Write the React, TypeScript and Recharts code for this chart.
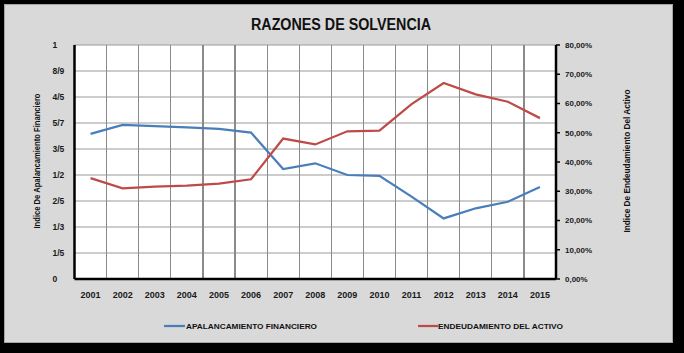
import React from 'react';
import { LineChart, Line, XAxis, YAxis, CartesianGrid, ReferenceLine } from 'recharts';

const years = ['2001', '2002', '2003', '2004', '2005', '2006', '2007', '2008', '2009', '2010', '2011', '2012', '2013', '2014', '2015'];
// Apalancamiento financiero, in left-axis tick steps (0..9)
const apalancamiento = [5.58, 5.93, 5.88, 5.83, 5.77, 5.63, 4.23, 4.45, 4.0, 3.97, 3.17, 2.33, 2.72, 2.97, 3.54];
// Endeudamiento del activo, percent
const endeudamiento = [34.5, 31.0, 31.6, 31.9, 32.6, 34.1, 48.0, 46.0, 50.5, 50.7, 59.8, 67.0, 63.1, 60.6, 55.0];
const leftTickLabels = ['0', '1/5', '1/3', '2/5', '1/2', '3/5', '5/7', '4/5', '8/9', '1'];
const leftTicks = [0, 1, 2, 3, 4, 5, 6, 7, 8, 9];
const rightTicks = [0, 10, 20, 30, 40, 50, 60, 70, 80];
const title = 'RAZONES DE SOLVENCIA';
const leftAxisTitle = 'Indice De Apalancamiento Financiero';
const rightAxisTitle = 'Indice De Endeudamiento Del Activo';
const seriesNames = ['APALANCAMIENTO FINANCIERO', 'ENDEUDAMIENTO DEL ACTIVO'];
const seriesColors = ['#4a7ebb', '#be4b48'];

const data = years.map((y, i) => ({ year: y, apal: apalancamiento[i], endeu: endeudamiento[i] }));

const FONT = '"Liberation Sans", Arial, sans-serif';

const LeftTick = (props: any) => {
  const { x, y, payload } = props;
  return (
    <text x={x} y={y} dy="0.355em" textAnchor="start" fontFamily={FONT} fontWeight="bold" fontSize={8.5} fill="#1a1a1a">
      {leftTickLabels[payload.value]}
    </text>
  );
};

const RightTick = (props: any) => {
  const { x, y, payload } = props;
  return (
    <text x={x} y={y} dy="0.355em" textAnchor="start" fontFamily={FONT} fontWeight="bold" fontSize={8} fill="#1a1a1a">
      {payload.value.toFixed(2).replace('.', ',') + '%'}
    </text>
  );
};

const BottomTick = (props: any) => {
  const { x, y, payload } = props;
  return (
    <text x={x} y={y} dy="0.71em" textAnchor="middle" fontFamily={FONT} fontWeight="bold" fontSize={9} fill="#1a1a1a">
      {payload.value}
    </text>
  );
};

export default function App() {
  return (
    <div style={{ position: 'fixed', left: 0, top: 0, width: 684, height: 353, background: '#000', overflow: 'hidden' }}>
      <div style={{ position: 'absolute', left: 4, top: 4, width: 669, height: 339, background: '#d9d9d9', border: '1px solid #a6a6a6', boxSizing: 'border-box' }} />
      <div style={{ position: 'absolute', left: 0, top: 0 }}>
        <LineChart width={684} height={353} data={data} margin={{ top: 45, right: 68, bottom: 44, left: 14.5 }}>
          <CartesianGrid
            xAxisId="cat"
            yAxisId="left"
            stroke="#9a9a9a"
            strokeWidth={1}
            fill="#ffffff"
            horizontal
            vertical={false}
          />
          <XAxis
            xAxisId="cat"
            dataKey="year"
            scale="band"
            interval={0}
            height={30}
            tickSize={0}
            tickMargin={13}
            axisLine={{ stroke: '#000', strokeWidth: 2.5 }}
            tick={<BottomTick />}
          />
          <YAxis
            yAxisId="left"
            orientation="left"
            width={60}
            domain={[0, 9]}
            ticks={leftTicks}
            interval={0}
            tickSize={0}
            tickMargin={22}
            axisLine={{ stroke: '#000', strokeWidth: 2.5 }}
            tick={<LeftTick />}
          />
          <YAxis
            yAxisId="right"
            orientation="right"
            width={60}
            domain={[0, 80]}
            ticks={rightTicks}
            interval={0}
            tickSize={4}
            tickMargin={5}
            tickLine={{ stroke: '#000', strokeWidth: 1.5 }}
            axisLine={{ stroke: '#000', strokeWidth: 2.5 }}
            tick={<RightTick />}
          />
          {years.slice(1).map((y) => (
            <ReferenceLine key={y} xAxisId="cat" yAxisId="left" x={y} position="start" stroke="#8a8a8a" strokeWidth={1.2} shapeRendering="crispEdges" />
          ))}
          <Line xAxisId="cat" yAxisId="left" type="linear" dataKey="apal" name={seriesNames[0]} stroke={seriesColors[0]} strokeWidth={2.25} dot={false} isAnimationActive={false} />
          <Line xAxisId="cat" yAxisId="right" type="linear" dataKey="endeu" name={seriesNames[1]} stroke={seriesColors[1]} strokeWidth={2.25} dot={false} isAnimationActive={false} />
        </LineChart>
      </div>
      <svg width={684} height={353} style={{ position: 'absolute', left: 0, top: 0, pointerEvents: 'none' }}>
        <text x={341} y={24} dominantBaseline="central" textAnchor="middle" fontFamily={FONT} fontWeight="bold" fontSize={16} fill="#111" textLength={180} lengthAdjust="spacingAndGlyphs">
          {title}
        </text>
        <text x={37} y={161} transform="rotate(-90 37 161)" dominantBaseline="central" textAnchor="middle" fontFamily={FONT} fontWeight="bold" fontSize={8.5} fill="#111" textLength={135} lengthAdjust="spacingAndGlyphs">
          {leftAxisTitle}
        </text>
        <text x={627} y={161} transform="rotate(-90 627 161)" dominantBaseline="central" textAnchor="middle" fontFamily={FONT} fontWeight="bold" fontSize={8.5} fill="#111" textLength={143} lengthAdjust="spacingAndGlyphs">
          {rightAxisTitle}
        </text>
        <line x1={164} y1={326} x2={185} y2={326} stroke={seriesColors[0]} strokeWidth={2.25} />
        <text x={186} y={326} dominantBaseline="central" textAnchor="start" fontFamily={FONT} fontWeight="bold" fontSize={8} fill="#111" textLength={131} lengthAdjust="spacingAndGlyphs">
          {seriesNames[0]}
        </text>
        <line x1={418} y1={326} x2={438} y2={326} stroke={seriesColors[1]} strokeWidth={2.25} />
        <text x={438} y={326} dominantBaseline="central" textAnchor="start" fontFamily={FONT} fontWeight="bold" fontSize={8} fill="#111" textLength={125} lengthAdjust="spacingAndGlyphs">
          {seriesNames[1]}
        </text>
      </svg>
    </div>
  );
}
